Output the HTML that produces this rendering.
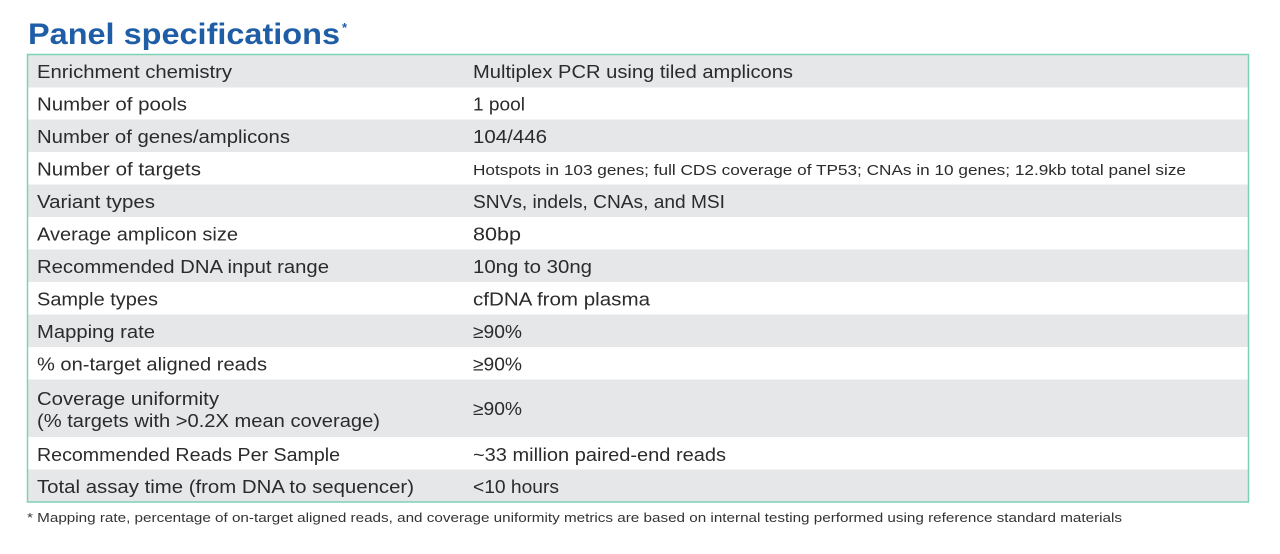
<!DOCTYPE html>
<html>
<head>
<meta charset="utf-8">
<style>
  html,body{margin:0;padding:0;background:#ffffff;}
  body{width:1280px;height:554px;overflow:hidden;}
  svg{display:block;}
  .t{font-family:"Liberation Sans",Arial,sans-serif;font-size:18px;fill:#2b2b2b;}
</style>
</head>
<body>
<svg width="1280" height="554" viewBox="0 0 1280 554" xmlns="http://www.w3.org/2000/svg">
  <rect x="0" y="0" width="1280" height="554" fill="#ffffff"/>
  <!-- Title -->
  <text x="28" y="44" font-family="Liberation Sans, Arial, sans-serif" font-weight="bold" font-size="30" fill="#1f5ea6" textLength="312" lengthAdjust="spacingAndGlyphs">Panel specifications</text>
  <text x="342" y="32" font-family="Liberation Sans, Arial, sans-serif" font-weight="bold" font-size="13" fill="#1f5ea6">*</text>

  <!-- Row backgrounds -->
  <g fill="#e6e7e9">
    <rect x="28" y="55" width="1220" height="32.5"/>
    <rect x="28" y="119.5" width="1220" height="32.5"/>
    <rect x="28" y="184.5" width="1220" height="32.5"/>
    <rect x="28" y="249.5" width="1220" height="32.5"/>
    <rect x="28" y="314.5" width="1220" height="32.5"/>
    <rect x="28" y="379.5" width="1220" height="57.5"/>
    <rect x="28" y="469.5" width="1220" height="32.5"/>
  </g>
  <!-- Border -->
  <rect x="27.5" y="54.5" width="1221" height="447.5" fill="none" stroke="#7fd1b6" stroke-width="1.5"/>

  <!-- Left column -->
  <g class="t">
    <text x="37" y="78" textLength="195" lengthAdjust="spacingAndGlyphs">Enrichment chemistry</text>
    <text x="37" y="110.5" textLength="150" lengthAdjust="spacingAndGlyphs">Number of pools</text>
    <text x="37" y="143" textLength="253" lengthAdjust="spacingAndGlyphs">Number of genes/amplicons</text>
    <text x="37" y="175.5" textLength="164" lengthAdjust="spacingAndGlyphs">Number of targets</text>
    <text x="37" y="208" textLength="118" lengthAdjust="spacingAndGlyphs">Variant types</text>
    <text x="37" y="240.5" textLength="201" lengthAdjust="spacingAndGlyphs">Average amplicon size</text>
    <text x="37" y="273" textLength="292" lengthAdjust="spacingAndGlyphs">Recommended DNA input range</text>
    <text x="37" y="305.5" textLength="121" lengthAdjust="spacingAndGlyphs">Sample types</text>
    <text x="37" y="338" textLength="118" lengthAdjust="spacingAndGlyphs">Mapping rate</text>
    <text x="37" y="370.5" textLength="230" lengthAdjust="spacingAndGlyphs">% on-target aligned reads</text>
    <text x="37" y="405" textLength="182" lengthAdjust="spacingAndGlyphs">Coverage uniformity</text>
    <text x="37" y="427" textLength="343" lengthAdjust="spacingAndGlyphs">(% targets with &gt;0.2X mean coverage)</text>
    <text x="37" y="461" textLength="303" lengthAdjust="spacingAndGlyphs">Recommended Reads Per Sample</text>
    <text x="37" y="493" textLength="377" lengthAdjust="spacingAndGlyphs">Total assay time (from DNA to sequencer)</text>
  </g>

  <!-- Right column -->
  <g class="t">
    <text x="473" y="78" textLength="320" lengthAdjust="spacingAndGlyphs">Multiplex PCR using tiled amplicons</text>
    <text x="473" y="110.5" textLength="52" lengthAdjust="spacingAndGlyphs">1 pool</text>
    <text x="473" y="143" textLength="74" lengthAdjust="spacingAndGlyphs">104/446</text>
    <text x="473" y="175" font-size="15" textLength="713" lengthAdjust="spacingAndGlyphs">Hotspots in 103 genes; full CDS coverage of TP53; CNAs in 10 genes; 12.9kb total panel size</text>
    <text x="473" y="208" textLength="252" lengthAdjust="spacingAndGlyphs">SNVs, indels, CNAs, and MSI</text>
    <text x="473" y="240.5" textLength="48" lengthAdjust="spacingAndGlyphs">80bp</text>
    <text x="473" y="273" textLength="119" lengthAdjust="spacingAndGlyphs">10ng to 30ng</text>
    <text x="473" y="305.5" textLength="177" lengthAdjust="spacingAndGlyphs">cfDNA from plasma</text>
    <text x="473" y="338" textLength="49" lengthAdjust="spacingAndGlyphs">≥90%</text>
    <text x="473" y="370.5" textLength="49" lengthAdjust="spacingAndGlyphs">≥90%</text>
    <text x="473" y="415" textLength="49" lengthAdjust="spacingAndGlyphs">≥90%</text>
    <text x="473" y="461" textLength="253" lengthAdjust="spacingAndGlyphs">~33 million paired-end reads</text>
    <text x="473" y="493" textLength="86" lengthAdjust="spacingAndGlyphs">&lt;10 hours</text>
  </g>

  <!-- Footnote -->
  <text x="27" y="522" font-family="Liberation Sans, Arial, sans-serif" font-size="13" fill="#333333" textLength="1095" lengthAdjust="spacingAndGlyphs">* Mapping rate, percentage of on-target aligned reads, and coverage uniformity metrics are based on internal testing performed using reference standard materials</text>
</svg>
</body>
</html>
